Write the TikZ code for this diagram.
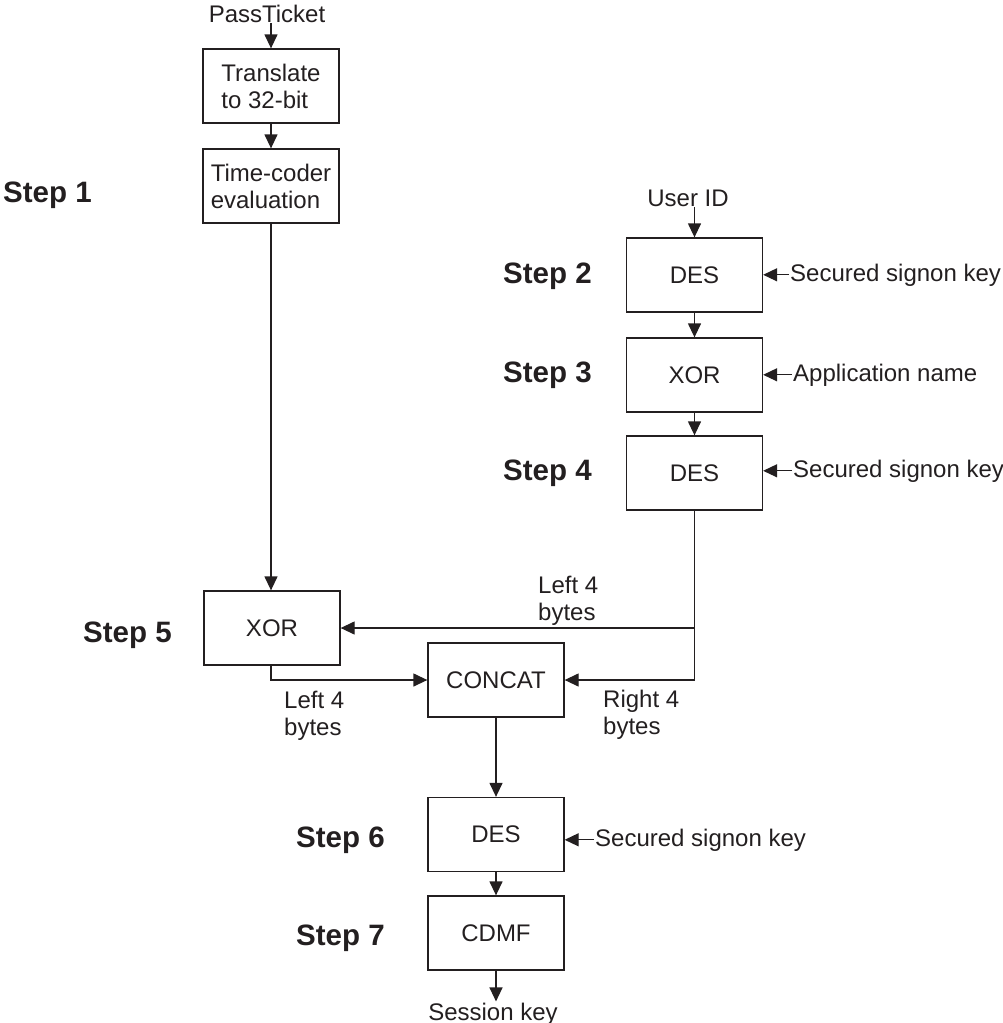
\documentclass[tikz,border=0pt]{standalone}
\usepackage{fontspec}
\setmainfont{Liberation Sans}
\usetikzlibrary{arrows.meta}
\definecolor{ink}{HTML}{231F20}
\tikzset{
  box/.style={draw=ink, line width=1.3pt, minimum width=136pt, minimum height=74pt,
    inner sep=0pt, align=left, text=ink, font=\fontsize{24}{27}\selectfont},
  lbl/.style={text=ink, inner sep=1pt, font=\fontsize{24}{27}\selectfont},
  steplbl/.style={text=ink, inner sep=0pt, font=\fontsize{29.5}{32}\selectfont\bfseries, anchor=base west},
  arr/.style={draw=ink, line width=1.3pt, -{Triangle[length=14pt,width=13pt]}},
  ln/.style={draw=ink, line width=1.3pt}
}
\newcommand{\twoline}[2]{\begin{tabular}[t]{@{}l@{}}#1\\#2\end{tabular}}
\begin{document}
\begin{tikzpicture}[x=1pt,y=-1pt]
\useasboundingbox (0,0) rectangle (1002,1023);
% left column
\node[lbl, anchor=base] (pt) at (267,22) {PassTicket};
\node[box] (t) at (271,86) {Translate\\to 32-bit};
\node[box] (tc) at (271,186) {Time-coder\\evaluation};
\node[steplbl] (s1) at (3,202) {Step 1};
% right column
\node[lbl, anchor=base] (uid) at (688,206) {User ID};
\node[box, align=center] (d2) at (694.5,275) {DES};
\node[box, align=center] (x3) at (694.5,375) {XOR};
\node[box, align=center] (d4) at (694.5,473) {DES};
\node[steplbl] (s2) at (503,283) {Step 2};
\node[steplbl] (s3) at (503,382) {Step 3};
\node[steplbl] (s4) at (503,480) {Step 4};
\node[lbl, anchor=base west] (k2) at (789,281) {Secured signon key};
\node[lbl, anchor=base west] (an) at (792,381) {Application name};
\node[lbl, anchor=base west] (k4) at (792,477) {Secured signon key};
% middle
\node[box, align=center] (x5) at (272,628) {XOR};
\node[box, align=center] (cc) at (496,680) {CONCAT};
\node[steplbl] (s5) at (83,642) {Step 5};
\node[lbl, anchor=base west, inner sep=0pt] (l4a) at (538,593) {\twoline{Left 4}{bytes}};
\node[lbl, anchor=base west, inner sep=0pt] (l4b) at (284,708) {\twoline{Left 4}{bytes}};
\node[lbl, anchor=base west, inner sep=0pt] (r4) at (603,707) {\twoline{Right 4}{bytes}};
% bottom
\node[box, align=center] (d6) at (496,834.5) {DES};
\node[box, align=center] (cd) at (496,933) {CDMF};
\node[steplbl] (s6) at (296,847) {Step 6};
\node[steplbl] (s7) at (296,945) {Step 7};
\node[lbl, anchor=base west] (k6) at (594,846) {Secured signon key};
\node[lbl, anchor=base] (sk) at (493,1020) {Session key};
% connectors
\draw[arr] (pt.south -| t.north) -- (t.north);
\draw[arr] (t.south) -- (tc.north);
\draw[arr] (tc.south) -- (x5.north -| tc.south);
\draw[arr] (uid.south -| d2.north) -- (d2.north);
\draw[arr] (d2.south) -- (x3.north);
\draw[arr] (x3.south) -- (d4.north);
\draw[arr] (k2.west) -- (k2.west -| d2.east);
\draw[arr] (an.west) -- (an.west -| x3.east);
\draw[arr] (k4.west) -- (k4.west -| d4.east);
\draw[arr] (d4.south |- x5.east) -- (x5.east);
\draw[arr] (d4.south) -- (d4.south |- cc.east) -- (cc.east);
\draw[arr] (x5.south -| tc.south) -- (cc.west -| tc.south) -- (cc.west);
\draw[arr] (cc.south) -- (d6.north);
\draw[arr] (k6.west) -- (k6.west -| d6.east);
\draw[arr] (d6.south) -- (cd.north);
\draw[arr] (cd.south) -- (cd.south |- sk.north);
\end{tikzpicture}
\end{document}
